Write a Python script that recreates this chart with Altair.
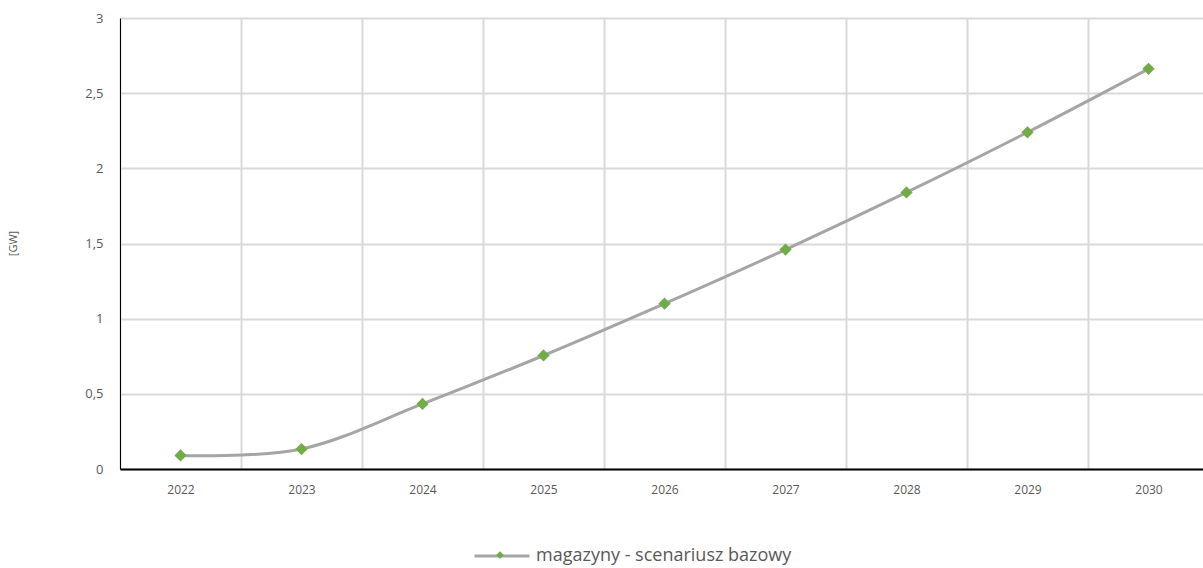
import altair as alt
import pandas as pd

# Installed energy storage capacity, baseline scenario [GW]
years = ["2022", "2023", "2024", "2025", "2026", "2027", "2028", "2029", "2030"]
capacity_gw = [0.09, 0.133, 0.433, 0.755, 1.10, 1.46, 1.84, 2.24, 2.662]
series_name = "magazyny - scenariusz bazowy"

df = pd.DataFrame({"rok": years, "moc": capacity_gw, "seria": series_name})

FONT = "Open Sans"
TEXT_GREY = "#595959"
GRID_GREY = "#d9d9d9"
LINE_GREY = "#a5a5a5"
MARKER_GREEN = "#70ad47"

x_enc = alt.X(
    "rok:O",
    bandPosition=0.5,
    scale=alt.Scale(type="band", paddingInner=0, paddingOuter=0, range=[0, 1089]),
    axis=alt.Axis(
        title=None,
        labelAngle=0,
        labelFont=FONT,
        labelFontSize=12,
        labelColor=TEXT_GREY,
        labelPadding=15,
        ticks=False,
        tickBand="extent",
        grid=True,
        gridColor=GRID_GREY,
        gridWidth=2,
        domainColor="#000000",
        domainWidth=2,
    ),
)

y_enc = alt.Y(
    "moc:Q",
    scale=alt.Scale(domain=[0, 3], nice=False),
    axis=alt.Axis(
        title="[GW]",
        titleFont=FONT,
        titleFontSize=11,
        titleFontWeight="normal",
        titleColor=TEXT_GREY,
        titleX=-102,
        titleY=225,
        titleAngle=270,
        values=[0, 0.5, 1, 1.5, 2, 2.5, 3],
        labelExpr="replace(toString(datum.value), '.', ',')",
        labelFont=FONT,
        labelFontSize=13,
        labelColor=TEXT_GREY,
        labelPadding=17,
        ticks=False,
        grid=True,
        gridColor=GRID_GREY,
        gridWidth=2,
        domainColor="#000000",
        domainWidth=1,
    ),
)

# Smoothed line (cardinal spline) with diamond markers
line = alt.Chart(df).mark_line(interpolate="cardinal", tension=0, strokeWidth=3).encode(
    x=x_enc,
    y=y_enc,
    stroke=alt.Stroke(
        "seria:N",
        scale=alt.Scale(range=[LINE_GREY]),
        legend=alt.Legend(
            title=None,
            orient="none",
            legendX=353,
            legendY=509,
            symbolType="stroke",
            symbolSize=3025,
            symbolStrokeWidth=3,
            labelFont=FONT,
            labelFontSize=18,
            labelColor=TEXT_GREY,
            labelOffset=5,
            labelLimit=500,
            padding=0,
        ),
    ),
)

points = alt.Chart(df).mark_point(shape="diamond", filled=True, size=150, opacity=1).encode(
    x=x_enc,
    y=y_enc,
    fill=alt.Fill(
        "seria:N",
        scale=alt.Scale(range=[MARKER_GREEN]),
        legend=alt.Legend(
            title=None,
            orient="none",
            legendX=376,
            legendY=533,
            symbolType="diamond",
            symbolSize=60,
            symbolStrokeWidth=0,
            labelOpacity=0,
            labelFontSize=1,
            padding=0,
        ),
    ),
)

chart = (
    alt.layer(line, points)
    .properties(
        width=1083,
        height=451,
        autosize=alt.AutoSizeParams(type="none"),
        padding={"left": 120, "top": 18, "right": 0, "bottom": 99},
    )
    .configure_view(stroke=None)
    .configure(background="#ffffff")
)

chart.save("out.html", embed_options={"renderer": "svg", "actions": False})
